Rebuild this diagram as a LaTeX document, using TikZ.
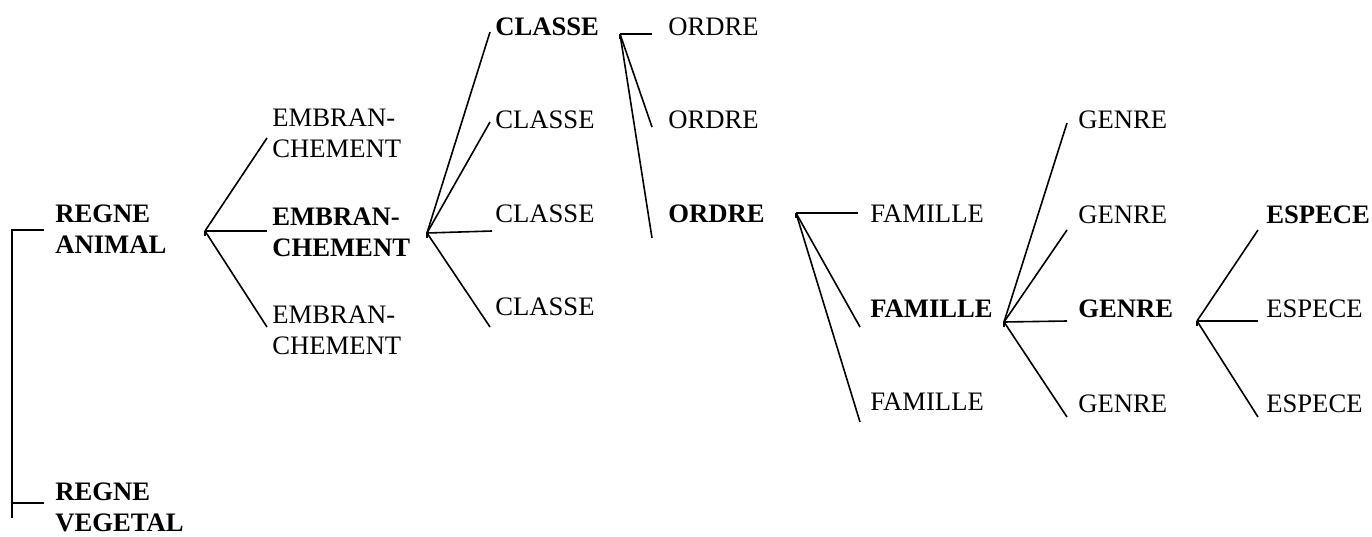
\documentclass[tikz,border=0pt]{standalone}
\usepackage{fontspec}
\setmainfont{Liberation Serif}
\usetikzlibrary{positioning, calc}

\begin{document}
\begin{tikzpicture}[x=0.75pt, y=-0.75pt,
        rank/.style={anchor=base west, inner sep=0pt, align=left, font=\fontsize{20}{23}\selectfont},
        key/.style={rank, font=\fontsize{20}{23}\selectfont\bfseries},
        link/.style={line width=1.2pt}]
            \useasboundingbox (0,0) rectangle (1372,536);

            % Regnes
            \node[key] (ranimal) at (55,253) {REGNE\\ANIMAL};
            \node[key] (rvegetal) at (55,531) {REGNE\\VEGETAL};
            \coordinate (bracketA) at (44,230);
            \coordinate (bracketV) at (44,503);
            \draw[link] (bracketA) -- (12,230) -- (12,518);
            \draw[link] (12,503) -- (bracketV);

            % Embranchements
            \node[rank] (emb1) at (272,157) {EMBRAN-\\CHEMENT};
            \node[key]  (emb2) at (272,256) {EMBRAN-\\CHEMENT};
            \node[rank] (emb3) at (272,354) {EMBRAN-\\CHEMENT};
            \coordinate (forkR) at (205,231);
            \coordinate (endE1) at (267,138);
            \coordinate (endE2) at (267,231);
            \coordinate (endE3) at (267,327);
            \draw[link] (forkR) -- (endE1);
            \draw[link] (forkR) -- (endE2);
            \draw[link] (forkR) -- (endE3);
            \draw[link] (forkR) -- ++(0,5);

            % Classes
            \node[key]  (cl1) at (495,35) {CLASSE};
            \node[rank] (cl2) at (495,128) {CLASSE};
            \node[rank] (cl3) at (495,222) {CLASSE};
            \node[rank] (cl4) at (495,315) {CLASSE};
            \coordinate (forkE) at (427,233);
            \coordinate (endC1) at (490,32);
            \coordinate (endC2) at (490,122);
            \coordinate (endC3) at (492,231);
            \coordinate (endC4) at (490,327);
            \draw[link] (forkE) -- (endC1);
            \draw[link] (forkE) -- (endC2);
            \draw[link] (forkE) -- (endC3);
            \draw[link] (forkE) -- (endC4);
            \draw[link] (forkE) -- ++(0,5);

            % Ordres
            \node[rank] (or1) at (668,35) {ORDRE};
            \node[rank] (or2) at (668,128) {ORDRE};
            \node[key]  (or3) at (668,222) {ORDRE};
            \coordinate (forkC) at (620,34);
            \coordinate (endO1) at (652,34);
            \coordinate (endO2) at (652,127);
            \coordinate (endO3) at (652,238);
            \draw[link] (forkC) -- (endO1);
            \draw[link] (forkC) -- (endO2);
            \draw[link] (forkC) -- (endO3);
            \draw[link] (forkC) -- ++(0,5);

            % Familles
            \node[rank] (fa1) at (870,222) {FAMILLE};
            \node[key]  (fa2) at (870,317) {FAMILLE};
            \node[rank] (fa3) at (870,410) {FAMILLE};
            \coordinate (forkO) at (796,213);
            \coordinate (endF1) at (858,213);
            \coordinate (endF2) at (860,327);
            \coordinate (endF3) at (860,422);
            \draw[link] (forkO) -- (endF1);
            \draw[link] (forkO) -- (endF2);
            \draw[link] (forkO) -- (endF3);
            \draw[link] (forkO) -- ++(0,5);

            % Genres
            \node[rank] (ge1) at (1078,128) {GENRE};
            \node[rank] (ge2) at (1078,223) {GENRE};
            \node[key]  (ge3) at (1078,317) {GENRE};
            \node[rank] (ge4) at (1078,412) {GENRE};
            \coordinate (forkF) at (1004,322);
            \coordinate (endG1) at (1067,123);
            \coordinate (endG2) at (1067,230);
            \coordinate (endG3) at (1067,321);
            \coordinate (endG4) at (1067,417);
            \draw[link] (forkF) -- (endG1);
            \draw[link] (forkF) -- (endG2);
            \draw[link] (forkF) -- (endG3);
            \draw[link] (forkF) -- (endG4);
            \draw[link] (forkF) -- ++(0,5);

            % Especes
            \node[key]  (es1) at (1266,223) {ESPECE};
            \node[rank] (es2) at (1266,317) {ESPECE};
            \node[rank] (es3) at (1266,412) {ESPECE};
            \coordinate (forkG) at (1197,321);
            \coordinate (endS1) at (1258,230);
            \coordinate (endS2) at (1258,321);
            \coordinate (endS3) at (1258,417);
            \draw[link] (forkG) -- (endS1);
            \draw[link] (forkG) -- (endS2);
            \draw[link] (forkG) -- (endS3);
            \draw[link] (forkG) -- ++(0,5);
        \end{tikzpicture}
\end{document}
